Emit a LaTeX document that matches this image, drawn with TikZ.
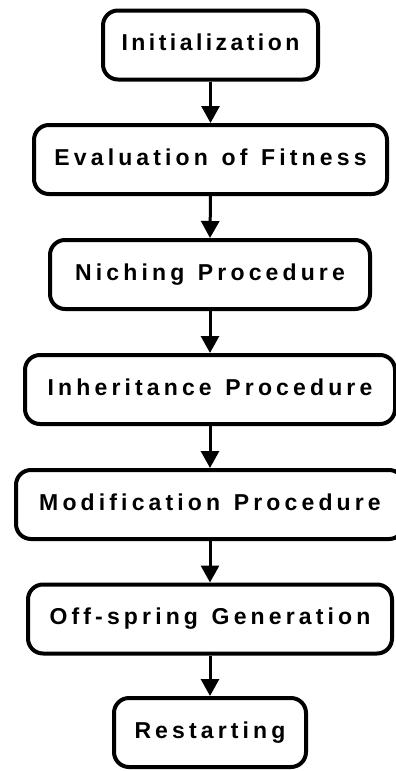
\documentclass[tikz,border=0pt]{standalone}
\usepackage{fontspec}
\setmainfont{Liberation Sans}[LetterSpace=18, WordSpace=1.3]
\usetikzlibrary{arrows.meta}
\begin{document}
\begin{tikzpicture}[x=1pt,y=-1pt,
  stepbox/.style={draw=black, line width=4pt, rounded corners=15pt, fill=white,
    minimum height=69pt, font=\fontsize{23}{27}\selectfont\bfseries, inner sep=0pt,
    text height=17pt, text depth=6pt},
  flow/.style={line width=3pt, -{Triangle[length=17pt,width=18pt]}}]
  \useasboundingbox (0,0) rectangle (396,771);
  \node[stepbox, minimum width=215pt] (init) at (210.5,45)
    {\addfontfeature{LetterSpace=15}Initialization};
  \node[stepbox, minimum width=353pt] (eval) at (210.5,159.5) {Evaluation of Fitness};
  \node[stepbox, minimum width=320pt] (nich) at (210,274.5) {Niching Procedure};
  \node[stepbox, minimum width=370pt] (inhe) at (210,389.5) {Inheritance Procedure};
  \node[stepbox, minimum width=388pt] (modi) at (210,504.5) {Modification Procedure};
  \node[stepbox, minimum width=364pt] (offs) at (210,619) {Off-spring Generation};
  \node[stepbox, minimum width=192pt] (rest) at (210,732.5) {Restarting};
  \foreach \a/\b in {init/eval, eval/nich, nich/inhe, inhe/modi, modi/offs, offs/rest}
    \draw[flow] (\a.south) -- (\b.north);
\end{tikzpicture}
\end{document}
